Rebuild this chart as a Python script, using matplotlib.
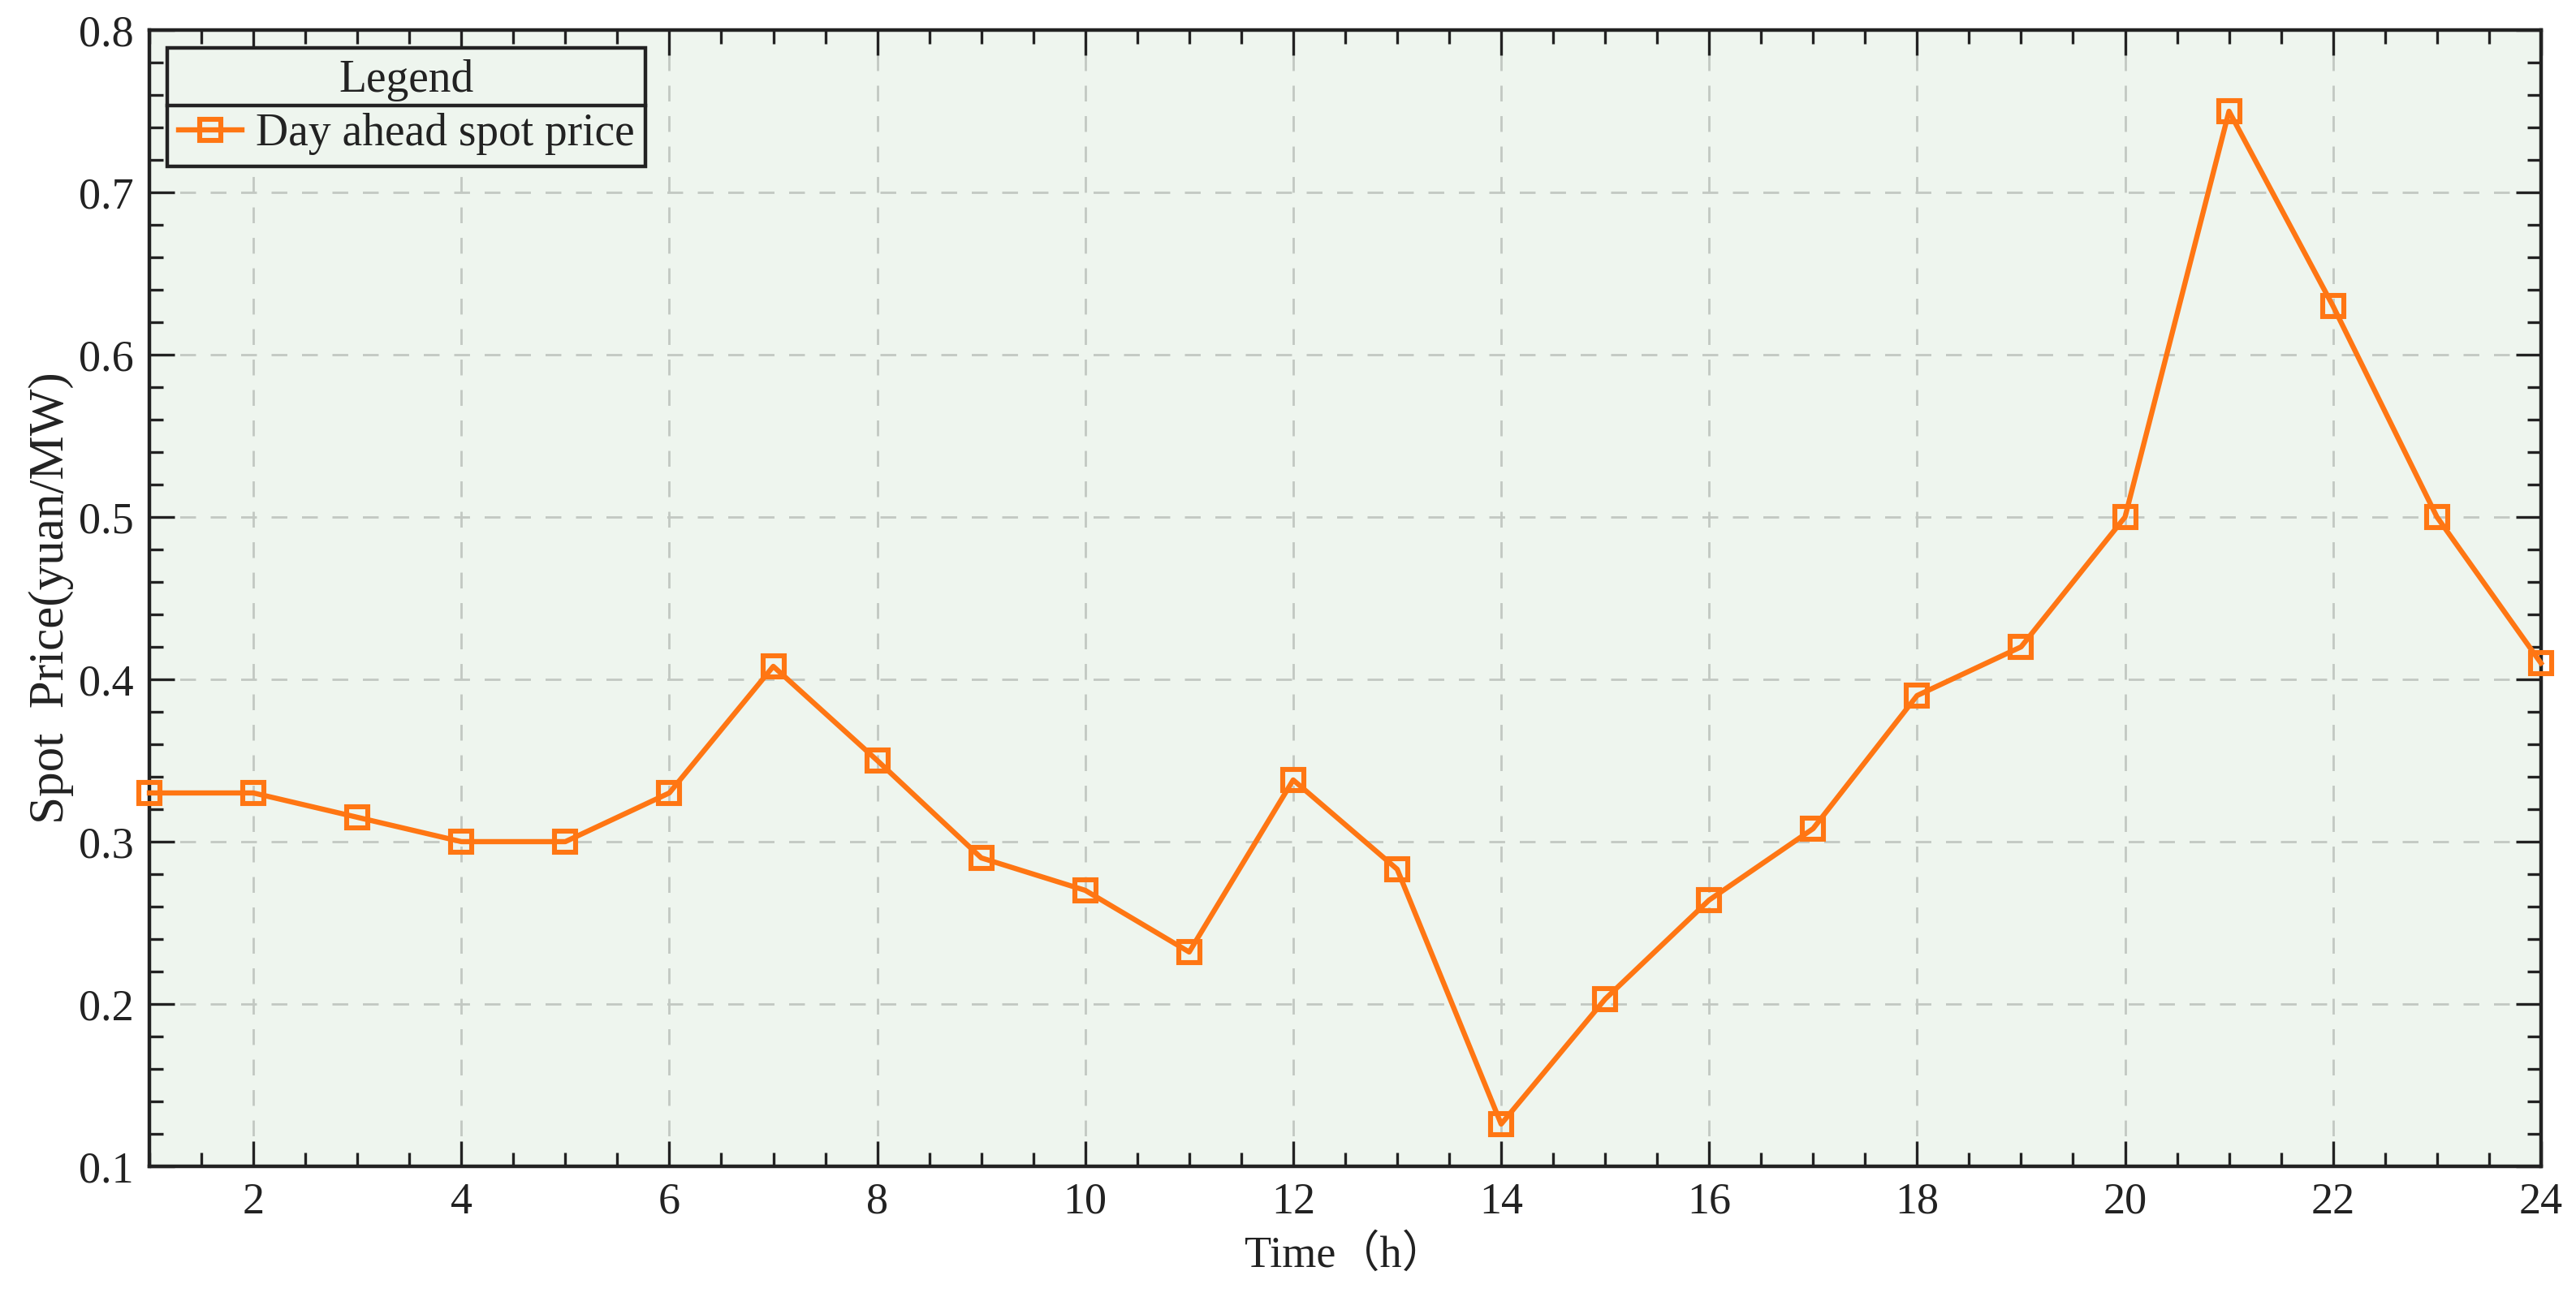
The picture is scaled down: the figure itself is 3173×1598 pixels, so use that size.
import numpy as np
import matplotlib
matplotlib.use("Agg")
import matplotlib.pyplot as plt
from matplotlib.ticker import MultipleLocator
from matplotlib.lines import Line2D

# hourly day-ahead spot price
hours = np.arange(1, 25)
price = [0.33, 0.33, 0.315, 0.30, 0.30, 0.33, 0.408, 0.35, 0.29, 0.27, 0.232, 0.338,
         0.283, 0.126, 0.203, 0.264, 0.308, 0.39, 0.42, 0.50, 0.75, 0.63, 0.50, 0.41]
x_ticks = [2, 4, 6, 8, 10, 12, 14, 16, 18, 20, 22, 24]
y_ticks = [0.1, 0.2, 0.3, 0.4, 0.5, 0.6, 0.7, 0.8]

plt.rcParams['font.family'] = ['Liberation Serif', 'Noto Sans CJK SC']

fig = plt.figure(figsize=(3173 / 200, 1598 / 200), dpi=200)
ax = fig.add_axes([0.058, 0.1008, 0.9284, 0.876])
ax.set_facecolor('#eef5ee')

orange = '#ff7613'
ax.plot(hours, price, color=orange, lw=2.3, marker='s', ms=9.5, mfc='none',
        mec=orange, mew=2.2, label='Day ahead spot price', zorder=3, clip_on=False)

ax.set_xlim(1, 24)
ax.set_ylim(0.1, 0.8)
ax.set_xticks(x_ticks)
ax.set_yticks(y_ticks)
ax.set_yticklabels([f'{v:.1f}' for v in y_ticks])
ax.xaxis.set_minor_locator(MultipleLocator(0.5))
ax.yaxis.set_minor_locator(MultipleLocator(0.02))
ax.tick_params(which='both', direction='in', top=True, right=True, color='#222222')
ax.tick_params(which='major', length=11, width=1.2, labelsize=19.5, colors='#222222', pad=7)
ax.tick_params(which='minor', length=6, width=1.2)
for s in ax.spines.values():
    s.set_linewidth(1.6)
    s.set_color('#222222')

ax.grid(True, which='major', color='#c2c8c2', lw=1.0, ls=(0, (7, 6.5)), zorder=0)

ax.set_xlabel('Time（h）', fontsize=19.5, color='#222222', labelpad=5)
ax.set_ylabel('Spot  Price(yuan/MW)', fontsize=22, color='#222222', labelpad=2)

leg = ax.legend(loc='upper left', title='Legend', fontsize=20, title_fontsize=20,
                fancybox=False, framealpha=1, facecolor='#eef5ee', edgecolor='#222222',
                borderaxespad=0.4, handlelength=1.4, handletextpad=0.3,
                borderpad=0.25, labelspacing=0.25)
leg.get_frame().set_linewidth(1.6)
leg.get_title().set_color('#222222')
for t in leg.get_texts():
    t.set_color('#222222')

# separator line between legend title and entry
fig.canvas.draw()
r = fig.canvas.get_renderer()
fb = leg.get_frame().get_window_extent(r)
tb = leg.get_title().get_window_extent(r)
inv = fig.transFigure.inverted()
x0, y0 = inv.transform((fb.x0, tb.y0 - 5))
x1, _ = inv.transform((fb.x1, tb.y0 - 5))
fig.add_artist(Line2D([x0, x1], [y0, y0], transform=fig.transFigure,
                      color='#222222', lw=1.6, zorder=10))

fig.savefig('out.png', dpi=200)
